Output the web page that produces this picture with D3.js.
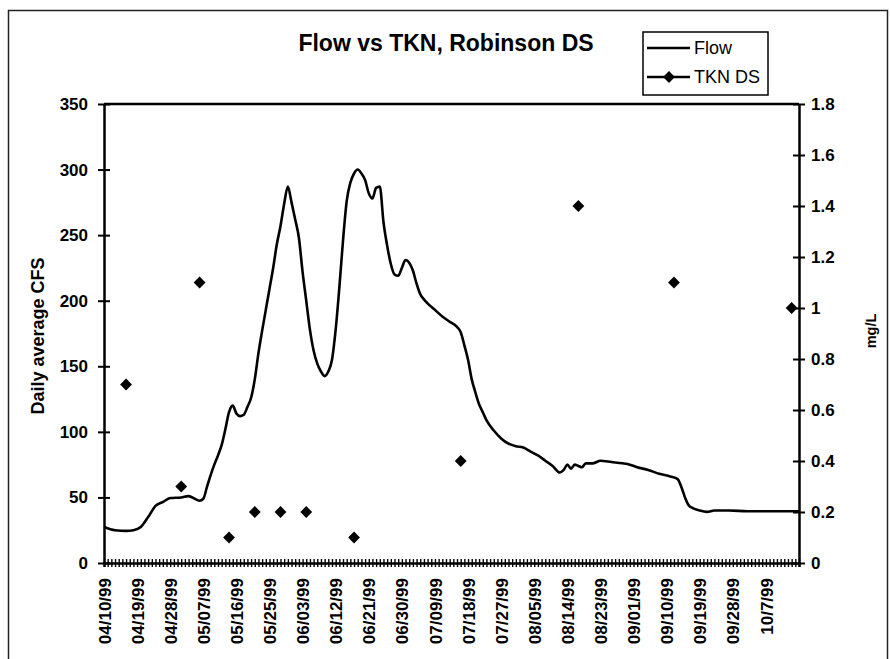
<!DOCTYPE html>
<html>
<head>
<meta charset="utf-8">
<script src="https://cdn.jsdelivr.net/npm/d3@7/dist/d3.min.js"></script>
<style>
  html, body { margin: 0; padding: 0; background: #fff; }
  svg { display: block; }
  text { font-family: "Liberation Sans", Arial, sans-serif; fill: #000; }
</style>
</head>
<body>
<svg id="chart" width="890" height="659"></svg>
<script>
// ---- Data ----
const flowDates = [
  "04/10/99","04/13/99","04/16/99","04/18/99","04/20/99","04/22/99","04/24/99","04/26/99","04/28/99",
  "05/01/99","05/03/99","05/05/99","05/06/99","05/07/99","05/08/99","05/09/99","05/10/99","05/11/99",
  "05/12/99","05/13/99","05/14/99","05/15/99","05/16/99","05/17/99","05/18/99","05/19/99","05/20/99",
  "05/21/99","05/22/99","05/23/99","05/24/99","05/25/99","05/26/99","05/27/99","05/28/99","05/29/99",
  "05/30/99","05/31/99","06/01/99","06/02/99","06/03/99","06/04/99","06/05/99","06/06/99","06/07/99",
  "06/08/99","06/09/99","06/10/99","06/11/99","06/12/99","06/13/99","06/14/99","06/15/99","06/16/99",
  "06/17/99","06/18/99","06/19/99","06/20/99","06/21/99","06/22/99","06/23/99","06/24/99","06/25/99",
  "06/26/99","06/27/99","06/28/99","06/29/99","06/30/99","07/01/99","07/02/99","07/03/99","07/04/99",
  "07/05/99","07/06/99","07/07/99","07/09/99","07/11/99","07/13/99","07/15/99","07/16/99","07/17/99",
  "07/18/99","07/19/99","07/20/99","07/21/99","07/22/99","07/23/99","07/25/99","07/27/99","07/29/99",
  "07/31/99","08/02/99","08/04/99","08/06/99","08/08/99","08/10/99","08/12/99","08/13/99","08/14/99",
  "08/15/99","08/16/99","08/17/99","08/18/99","08/19/99","08/21/99","08/23/99","08/26/99","08/29/99",
  "08/31/99","09/02/99","09/05/99","09/08/99","09/11/99","09/13/99","09/14/99","09/15/99","09/16/99",
  "09/17/99","09/19/99","09/21/99","09/23/99","09/27/99","10/02/99","10/07/99","10/12/99","10/16/99"
];
const flowValues = [
  27.5,25,24.5,25,27.5,35,43.5,46.5,49.5,
  50,51,48.5,47.5,49,58,67,75,82,
  90,102,115,120,114,112,113,119,126,
  140,160,177,193,209,225,243,257,274,
  287,275,262,248,222,200,178,162,152,
  146,142.5,146,155,178,210,246,276,290,
  297,300,297,292,282,278,286,287,260,
  242,228,220,219,225,231,229,223,213,
  205,201,198,193,188,184,180,176,166,
  155,140,130,121,115,109,101,95,91,
  89,88,85,82,78,74,69,71,75,
  72,75,74,73,76,76,78,77,76,
  75,73,71,68,66,64,58,50,44,
  42,40,39,40,40,39.5,39.5,39.5,39.5
];
const tknDates = ["04/16/99","05/01/99","05/06/99","05/14/99","05/21/99","05/28/99","06/04/99",
                  "06/17/99","07/16/99","08/17/99","09/12/99","10/14/99"];
const tknValues = [0.7,0.3,1.1,0.1,0.2,0.2,0.2,0.1,0.4,1.4,1.1,1.0];

const xStart = "04/10/99", xEnd = "10/16/99";
const xTickLabels = ["04/10/99","04/19/99","04/28/99","05/07/99","05/16/99","05/25/99","06/03/99",
  "06/12/99","06/21/99","06/30/99","07/09/99","07/18/99","07/27/99","08/05/99","08/14/99",
  "08/23/99","09/01/99","09/10/99","09/19/99","09/28/99","10/7/99"];
const leftTicks = [0,50,100,150,200,250,300,350];
const rightTicks = [0,0.2,0.4,0.6,0.8,1,1.2,1.4,1.6,1.8];

// ---- Layout ----
const L = 104, R = 799, T = 104, B = 563;
const parse = d3.timeParse("%m/%d/%y");
const svg = d3.select("#chart");

// outer chart border
svg.append("rect").attr("x", 8.5).attr("y", 10.5).attr("width", 879).attr("height", 700)
  .attr("fill", "none").attr("stroke", "#222").attr("stroke-width", 1.5);

const x = d3.scaleTime().domain([parse(xStart), parse(xEnd)]).range([L, R]);
const yL = d3.scaleLinear().domain([0, 350]).range([B, T]);
const yR = d3.scaleLinear().domain([0, 1.8]).range([B, T]);

// plot area top border
svg.append("line").attr("x1", L).attr("x2", R).attr("y1", T).attr("y2", T)
  .attr("stroke", "#000").attr("stroke-width", 2.5);

// x axis: a tick on every day, a label every 9th day
const days = d3.timeDay.range(parse(xStart), d3.timeDay.offset(parse(xEnd), 1));
const labelMap = new Map(xTickLabels.map(s => {
  const p = s.split("/");
  return [parse(p[0].padStart(2,"0") + "/" + p[1].padStart(2,"0") + "/" + p[2]).getTime(), s];
}));
const gx = svg.append("g").attr("transform", `translate(0,${B})`)
  .call(d3.axisBottom(x).tickValues(days).tickSize(4).tickPadding(0)
    .tickFormat(d => labelMap.get(d.getTime()) || ""));
gx.select(".domain").attr("stroke", "#000").attr("stroke-width", 2.5);
gx.selectAll(".tick line").attr("y1", -4).attr("y2", 4).attr("stroke", "#000").attr("stroke-width", 1.4);
gx.selectAll(".tick text")
  .attr("transform", "rotate(-90)")
  .attr("x", -15).attr("y", 0).attr("dy", "0.36em")
  .attr("text-anchor", "end")
  .style("font-size", "17px").style("font-weight", "bold")
  .style("font-family", '"Liberation Sans", Arial, sans-serif');

// left axis
const gl = svg.append("g").attr("transform", `translate(${L},0)`)
  .call(d3.axisLeft(yL).tickValues(leftTicks).tickSize(6).tickPadding(10).tickSizeOuter(0));
gl.select(".domain").attr("stroke", "#000").attr("stroke-width", 2.5);
gl.selectAll(".tick line").attr("x1", 6).attr("x2", -6).attr("stroke", "#000").attr("stroke-width", 2);
gl.selectAll(".tick text").style("font-size", "17px").style("font-weight", "bold")
  .style("font-family", '"Liberation Sans", Arial, sans-serif');

// right axis
const gr = svg.append("g").attr("transform", `translate(${R},0)`)
  .call(d3.axisRight(yR).tickValues(rightTicks).tickSize(6).tickPadding(6).tickSizeOuter(0)
    .tickFormat(d3.format("")));
gr.select(".domain").attr("stroke", "#000").attr("stroke-width", 2.5);
gr.selectAll(".tick line").attr("x1", -6).attr("x2", 6).attr("stroke", "#000").attr("stroke-width", 2);
gr.selectAll(".tick text").style("font-size", "17px").style("font-weight", "bold")
  .style("font-family", '"Liberation Sans", Arial, sans-serif');

// flow line
const flow = flowDates.map((d, i) => ({ date: parse(d), v: flowValues[i] }));
svg.append("path").datum(flow)
  .attr("fill", "none").attr("stroke", "#000").attr("stroke-width", 2.6)
  .attr("stroke-linejoin", "round")
  .attr("d", d3.line().x(d => x(d.date)).y(d => yL(d.v)).curve(d3.curveMonotoneX));

// TKN markers (diamonds)
const diamond = d3.symbol().type(d3.symbolSquare).size(70);
svg.append("g").selectAll("path").data(tknDates.map((d, i) => ({ date: parse(d), v: tknValues[i] })))
  .join("path")
  .attr("d", diamond)
  .attr("transform", d => `translate(${x(d.date)},${yR(d.v)}) rotate(45)`)
  .attr("fill", "#000");

// title
svg.append("text").attr("x", 446).attr("y", 51).attr("text-anchor", "middle")
  .style("font-size", "23px").style("font-weight", "bold").text("Flow vs TKN, Robinson DS");

// axis titles
svg.append("text").attr("transform", "translate(44,336) rotate(-90)").attr("text-anchor", "middle")
  .style("font-size", "18px").style("font-weight", "bold").text("Daily average CFS");
svg.append("text").attr("transform", "translate(876,331) rotate(-90)").attr("text-anchor", "middle")
  .style("font-size", "14.5px").style("font-weight", "bold").text("mg/L");

// legend
const lg = svg.append("g");
lg.append("rect").attr("x", 643).attr("y", 32).attr("width", 125).attr("height", 63)
  .attr("fill", "#fff").attr("stroke", "#000").attr("stroke-width", 1.5);
lg.append("line").attr("x1", 647).attr("x2", 690).attr("y1", 48).attr("y2", 48)
  .attr("stroke", "#000").attr("stroke-width", 2.4);
lg.append("text").attr("x", 694).attr("y", 54).style("font-size", "18px").text("Flow");
lg.append("line").attr("x1", 647).attr("x2", 690).attr("y1", 77).attr("y2", 77)
  .attr("stroke", "#000").attr("stroke-width", 2.4);
lg.append("path").attr("d", diamond).attr("transform", "translate(669,77) rotate(45)").attr("fill", "#000");
lg.append("text").attr("x", 694).attr("y", 83).style("font-size", "18px").text("TKN DS");
</script>
</body>
</html>
